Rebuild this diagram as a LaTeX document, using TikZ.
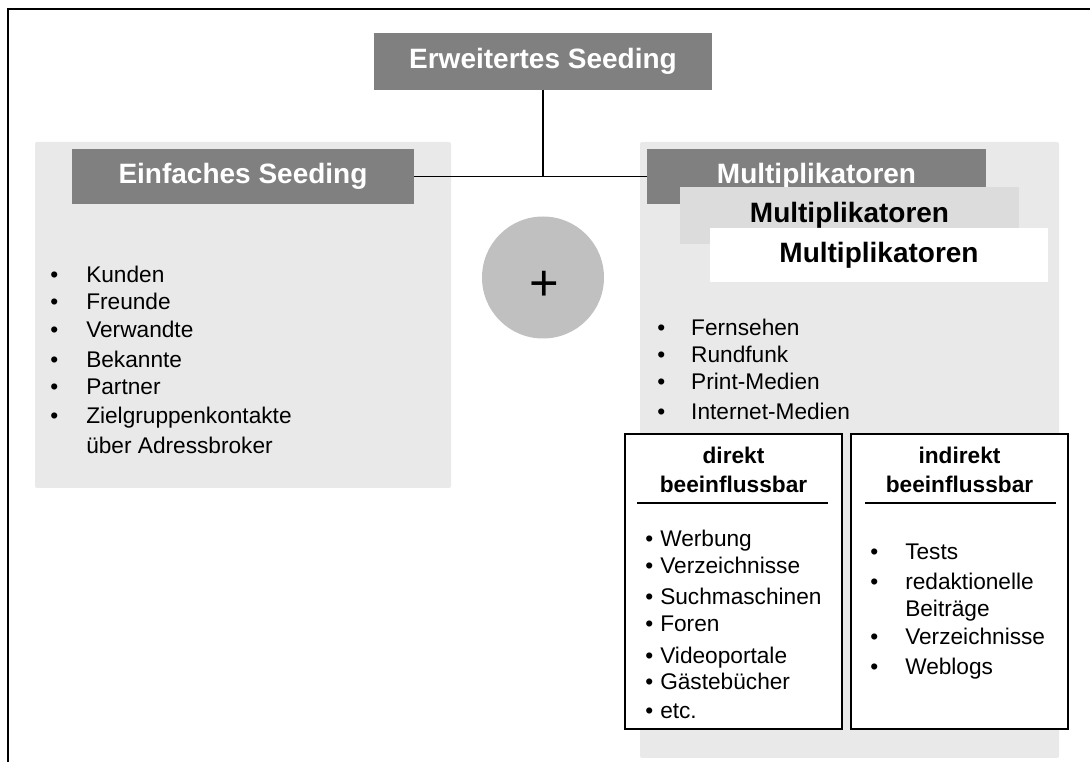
\documentclass[tikz,border=0pt]{standalone}
\usepackage{fontspec}
\setmainfont{Liberation Sans}
\usepackage{tikz}
\definecolor{headgray}{HTML}{808080}
\definecolor{panelgray}{HTML}{E9E9E9}
\definecolor{plusgray}{HTML}{C0C0C0}
\definecolor{layergray}{HTML}{DCDCDC}
\newcommand{\bodyfont}{\fontsize{17}{21}\selectfont}
\newcommand{\headfont}{\fontsize{21}{25}\selectfont\bfseries}
\newcommand{\bul}[1]{\makebox[#1][l]{\textbullet}}
\tikzstyle{Panel}=[rectangle, fill=panelgray, inner sep=0, rounded corners=1.5pt]
\tikzstyle{Head}=[rectangle, fill=headgray, text=white, font=\headfont, inner sep=0]
\tikzstyle{Layer}=[rectangle, text=black, font=\headfont, inner sep=0]
\tikzstyle{Frame}=[rectangle, draw=black, fill=white, line width=1.2pt, inner sep=0]
\tikzstyle{Item}=[anchor=mid west, inner sep=0, font=\bodyfont]

\begin{document}
\begin{tikzpicture}[x=0.75pt, y=-0.75pt]
    \useasboundingbox (0,0) rectangle (1090,762);
    \draw[line width=1.5pt] (8,762) -- (8,9) -- (1090,9);

    \path
    (243,315) node[Panel, minimum width=312pt, minimum height=259.5pt] (left) {}
    (849.5,450) node[Panel, minimum width=314.25pt, minimum height=462pt] (right) {}
    (543,61.5) node[Head, minimum width=253.5pt, minimum height=42.75pt] (erw) {Erweitertes Seeding}
    (243,176.5) node[Head, minimum width=256.5pt, minimum height=41.25pt] (einf) {Einfaches Seeding}
    (816.5,176.5) node[Head, minimum width=254.25pt, minimum height=41.25pt] (multi1) {Multiplikatoren}
    (849.5,215.5) node[Layer, fill=layergray, minimum width=254.25pt, minimum height=42.75pt] (multi2) {Multiplikatoren}
    (879,255) node[Layer, fill=white, minimum width=253.5pt, minimum height=40.5pt] (multi3) {Multiplikatoren}
    (543,277.5) node[circle, fill=plusgray, minimum size=91.5pt, inner sep=0] (plus) {}
    (544,286) node[inner sep=0, font=\fontsize{38}{38}\selectfont] (plussign) {+};

    \draw[line width=1.4pt] (erw.south) -- (erw.south |- einf.east);
    \draw[line width=1pt] (einf.east) -- (multi1.west);

    % einfaches seeding
    \path (50,279) node[Item] (kunden) {\bul{27pt}Kunden}
    (50,306) node[Item] (freunde) {\bul{27pt}Freunde}
    (50,334) node[Item] (verw) {\bul{27pt}Verwandte}
    (50,364) node[Item] (bek) {\bul{27pt}Bekannte}
    (50,391) node[Item] (partner) {\bul{27pt}Partner}
    (50,420) node[Item] (ziel) {\bul{27pt}Zielgruppenkontakte}
    (86,450) node[Item] (adress) {über Adressbroker};

    % multiplikatoren
    \path (657,332) node[Item] (tv) {\bul{25.5pt}Fernsehen}
    (657,359) node[Item] (radio) {\bul{25.5pt}Rundfunk}
    (657,386) node[Item] (print) {\bul{25.5pt}Print-Medien}
    (657,416) node[Item] (inet) {\bul{25.5pt}Internet-Medien};

    \path (733.5,581.5) node[Frame, minimum width=162.75pt, minimum height=221.25pt] (dir) {}
    (959.5,581.5) node[Frame, minimum width=162.75pt, minimum height=221.25pt] (indir) {}
    (733.5,470) node[align=center, inner sep=0, font=\fontsize{17}{21.75}\selectfont\bfseries] (dirhead) {direkt\\beeinflussbar}
    (959.5,470) node[align=center, inner sep=0, font=\fontsize{17}{21.75}\selectfont\bfseries] (indirhead) {indirekt\\beeinflussbar};
    \coordinate (dul1) at (637,503);
    \coordinate (dul2) at (828,503);
    \coordinate (iul1) at (865,503);
    \coordinate (iul2) at (1056,503);
    \draw[line width=1.2pt] (dul1) -- (dul2);
    \draw[line width=1.2pt] (iul1) -- (iul2);

    \path (645,543) node[Item] (werbung) {\bul{11.25pt}Werbung}
    (645,570) node[Item] (verz1) {\bul{11.25pt}Verzeichnisse}
    (645,601) node[Item] (such) {\bul{11.25pt}Suchmaschinen}
    (645,628) node[Item] (foren) {\bul{11.25pt}Foren}
    (645,660) node[Item] (video) {\bul{11.25pt}Videoportale}
    (645,686) node[Item] (gast) {\bul{11.25pt}Gästebücher}
    (645,715) node[Item] (etc) {\bul{11.25pt}etc.};

    \path (870,556) node[Item] (tests) {\bul{26.25pt}Tests}
    (870,586) node[Item] (redak) {\bul{26.25pt}redaktionelle}
    (905,613) node[Item] (beitr) {Beiträge}
    (870,641) node[Item] (verz2) {\bul{26.25pt}Verzeichnisse}
    (870,671) node[Item] (weblogs) {\bul{26.25pt}Weblogs};
\end{tikzpicture}
\end{document}
